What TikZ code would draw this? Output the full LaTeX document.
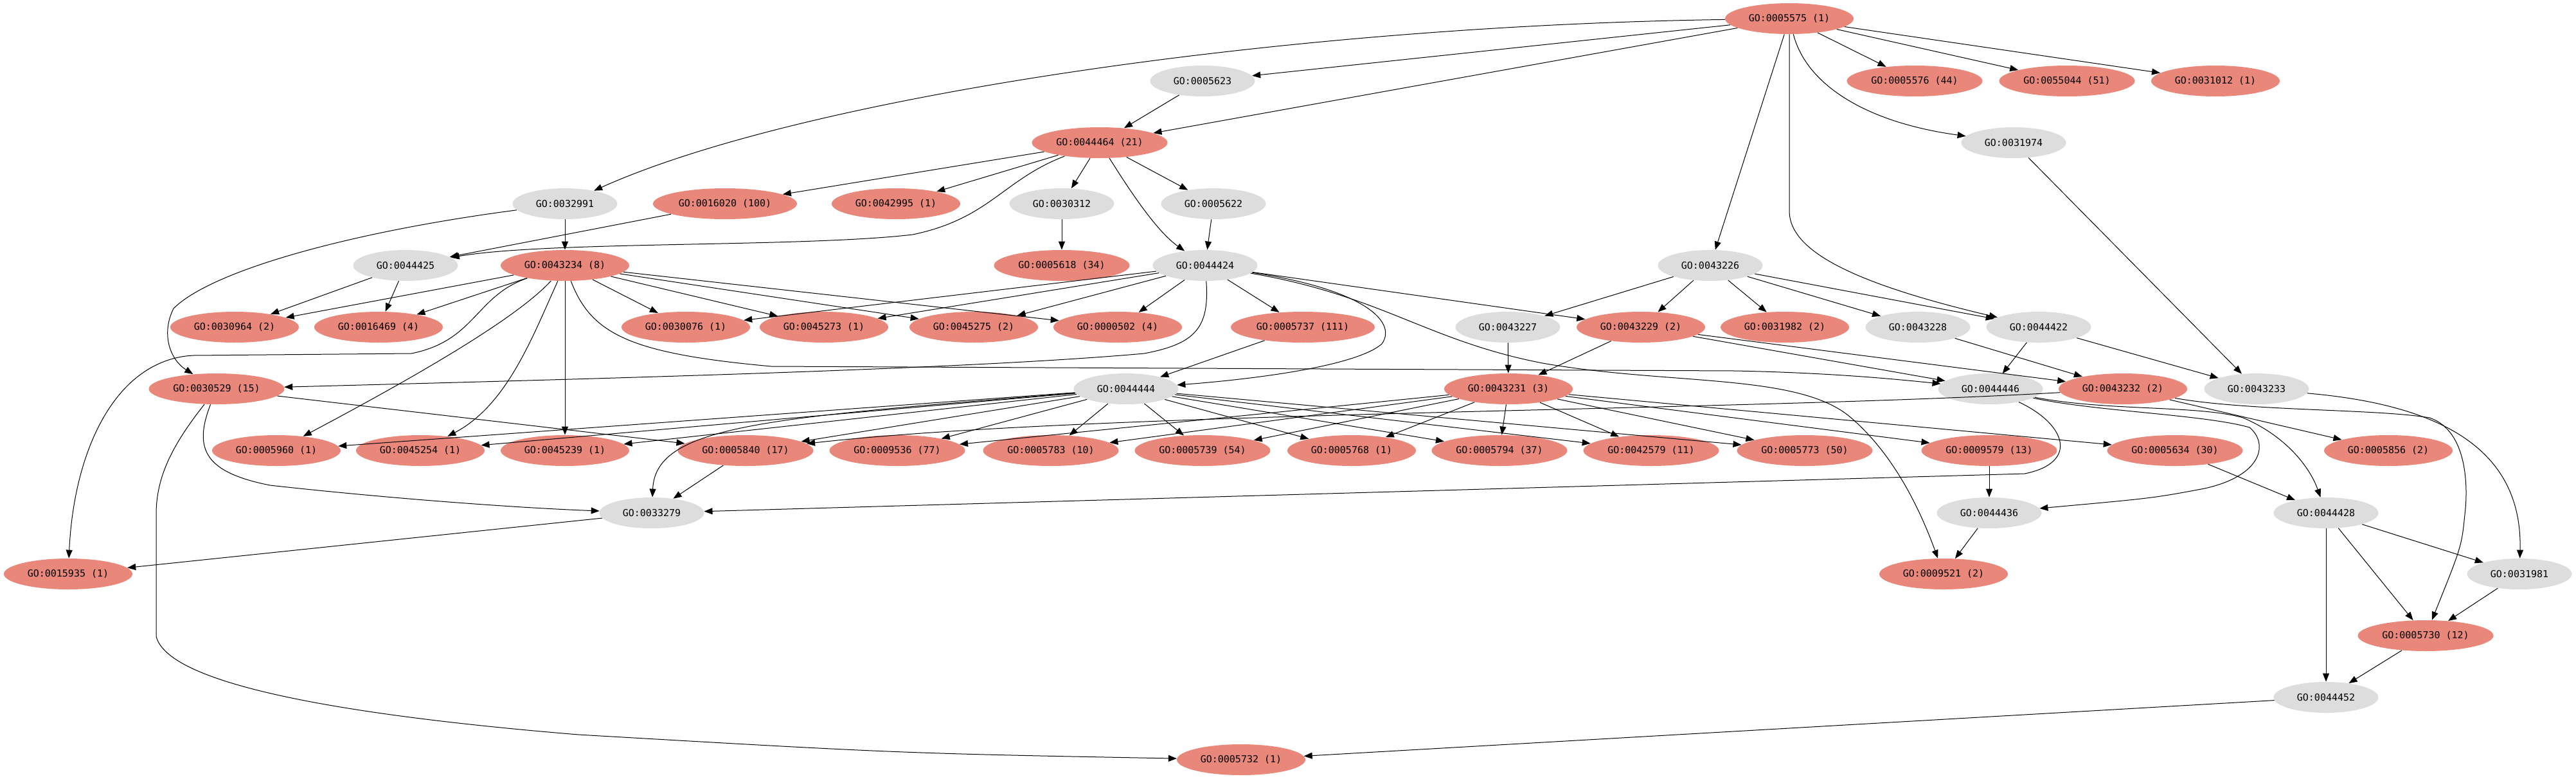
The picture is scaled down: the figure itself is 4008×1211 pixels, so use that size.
\documentclass[tikz,border=0pt]{standalone}
\usepackage{fontspec}
\usetikzlibrary{shapes.geometric,arrows.meta}
\newfontfamily\gofont{DejaVu Sans Mono}
\definecolor{hitred}{RGB}{233,136,122}
\definecolor{gogray}{RGB}{221,221,221}

\begin{document}
\begin{tikzpicture}[x=0.5pt,y=-0.5pt,
    gonode/.style={ellipse, fill=gogray, minimum width=81.5pt, minimum height=24pt,
        inner sep=0pt, font=\gofont\fontsize{7.5}{9}\selectfont},
    hit/.style={gonode, fill=hitred, minimum width=#1},
    hit/.default=100pt,
    link/.style={-{Triangle[length=6.5pt,width=5pt]}, line width=0.5pt}]

    \useasboundingbox (0,0) rectangle (4008,1211);

    % row 0 - 2
    \node[hit] (n0005575) at (2784,29) {GO:0005575 (1)};
    \node[gonode] (n0005623) at (1871,126) {GO:0005623};
    \node[hit=105.5pt] (n0005576) at (2979,126) {GO:0005576 (44)};
    \node[hit=105.5pt] (n0055044) at (3216,126) {GO:0055044 (51)};
    \node[hit] (n0031012) at (3447,126) {GO:0031012 (1)};
    \node[hit=105.5pt] (n0044464) at (1711,222) {GO:0044464 (21)};
    \node[gonode] (n0031974) at (3133,222) {GO:0031974};

    % row 3 - 4
    \node[gonode] (n0032991) at (879,317) {GO:0032991};
    \node[hit=112pt] (n0016020) at (1128,317) {GO:0016020 (100)};
    \node[hit] (n0042995) at (1394,317) {GO:0042995 (1)};
    \node[gonode] (n0030312) at (1652,317) {GO:0030312};
    \node[gonode] (n0005622) at (1888,317) {GO:0005622};
    \node[gonode] (n0044425) at (631,413) {GO:0044425};
    \node[hit] (n0043234) at (879,413) {GO:0043234 (8)};
    \node[hit=105.5pt] (n0005618) at (1652,413) {GO:0005618 (34)};
    \node[gonode] (n0044424) at (1875,413) {GO:0044424};
    \node[gonode] (n0043226) at (2661,413) {GO:0043226};

    % row 5
    \node[hit] (n0030964) at (365,509) {GO:0030964 (2)};
    \node[hit] (n0016469) at (589,509) {GO:0016469 (4)};
    \node[hit] (n0030076) at (1067,509) {GO:0030076 (1)};
    \node[hit] (n0045273) at (1282,509) {GO:0045273 (1)};
    \node[hit] (n0045275) at (1515,509) {GO:0045275 (2)};
    \node[hit] (n0000502) at (1739,509) {GO:0000502 (4)};
    \node[hit=112pt] (n0005737) at (2027,509) {GO:0005737 (111)};
    \node[gonode] (n0043227) at (2346,509) {GO:0043227};
    \node[hit] (n0043229) at (2553,509) {GO:0043229 (2)};
    \node[hit] (n0031982) at (2777,509) {GO:0031982 (2)};
    \node[gonode] (n0043228) at (2984,509) {GO:0043228};
    \node[gonode] (n0044422) at (3172,509) {GO:0044422};

    % row 6
    \node[hit=105.5pt] (n0030529) at (337,605) {GO:0030529 (15)};
    \node[gonode] (n0044444) at (1752,605) {GO:0044444};
    \node[hit] (n0043231) at (2347,605) {GO:0043231 (3)};
    \node[gonode] (n0044446) at (3097,605) {GO:0044446};
    \node[hit] (n0043232) at (3303,605) {GO:0043232 (2)};
    \node[gonode] (n0043233) at (3511,605) {GO:0043233};

    % row 7
    \node[hit] (n0005960) at (430,701) {GO:0005960 (1)};
    \node[hit] (n0045254) at (654,701) {GO:0045254 (1)};
    \node[hit] (n0045239) at (879,701) {GO:0045239 (1)};
    \node[hit=105.5pt] (n0005840) at (1160,701) {GO:0005840 (17)};
    \node[hit=105.5pt] (n0009536) at (1396,701) {GO:0009536 (77)};
    \node[hit=105.5pt] (n0005783) at (1635,701) {GO:0005783 (10)};
    \node[hit=105.5pt] (n0005739) at (1871,701) {GO:0005739 (54)};
    \node[hit] (n0005768) at (2103,701) {GO:0005768 (1)};
    \node[hit=105.5pt] (n0005794) at (2333,701) {GO:0005794 (37)};
    \node[hit=105.5pt] (n0042579) at (2569,701) {GO:0042579 (11)};
    \node[hit=105.5pt] (n0005773) at (2808,701) {GO:0005773 (50)};
    \node[hit=105.5pt] (n0009579) at (3095,701) {GO:0009579 (13)};
    \node[hit=105.5pt] (n0005634) at (3384,701) {GO:0005634 (30)};
    \node[hit] (n0005856) at (3716,701) {GO:0005856 (2)};

    % rows 8 - 12
    \node[gonode] (n0033279) at (1014,798) {GO:0033279};
    \node[gonode] (n0044436) at (3095,798) {GO:0044436};
    \node[gonode] (n0044428) at (3619,798) {GO:0044428};
    \node[hit] (n0015935) at (106,893) {GO:0015935 (1)};
    \node[hit] (n0009521) at (3024,893) {GO:0009521 (2)};
    \node[gonode] (n0031981) at (3920,893) {GO:0031981};
    \node[hit=105.5pt] (n0005730) at (3774,989) {GO:0005730 (12)};
    \node[gonode] (n0044452) at (3619,1085) {GO:0044452};
    \node[hit] (n0005732) at (1931,1182) {GO:0005732 (1)};

    % edges from the top
    \draw[link] (n0005575) -- (n0005623);
    \draw[link] (n0005575) -- (n0044464);
    \draw[link] (n0005575) -- (n0005576);
    \draw[link] (n0005575) -- (n0055044);
    \draw[link] (n0005575) -- (n0031012);
    \draw[link] (n0005575) -- (n0043226);
    \draw[link] (n0005575) .. controls (2000,40) and (1250,150) .. (n0032991);
    \draw[link] (n0005575) .. controls (2810,130) and (2900,190) .. (n0031974);
    \draw[link] (n0005575.south) -- (2784,330) .. controls (2786,390) and (2880,440) .. (n0044422);
    \draw[link] (n0005623) -- (n0044464);
    \draw[link] (n0044464) -- (n0016020);
    \draw[link] (n0044464) -- (n0042995);
    \draw[link] (n0044464) -- (n0030312);
    \draw[link] (n0044464) -- (n0005622);
    \draw[link] (n0044464) .. controls (1760,300) and (1800,360) .. (n0044424);
    \draw[link] (n0044464) .. controls (1560,280) and (1540,340) .. (1420,365)
        .. controls (1250,385) and (850,375) .. (n0044425);
    \draw[link] (n0031974) -- (n0043233);

    % rows 3 - 4
    \draw[link] (n0032991) -- (n0043234);
    \draw[link] (n0032991) .. controls (550,360) and (330,420) .. (270,480)
        .. controls (250,520) and (265,560) .. (n0030529);
    \draw[link] (n0016020) -- (n0044425);
    \draw[link] (n0030312) -- (n0005618);
    \draw[link] (n0005622) -- (n0044424);
    \draw[link] (n0044425) -- (n0030964);
    \draw[link] (n0044425) -- (n0016469);
    \draw[link] (n0043234) -- (n0030964);
    \draw[link] (n0043234) -- (n0016469);
    \draw[link] (n0043234) -- (n0030076);
    \draw[link] (n0043234) -- (n0045273);
    \draw[link] (n0043234) -- (n0045275);
    \draw[link] (n0043234) -- (n0000502);
    \draw[link] (n0043234) -- (n0045239);
    \draw[link] (n0043234) .. controls (740,460) and (740,530) .. (640,550) -- (300,553)
        .. controls (180,560) and (115,700) .. (n0015935);
    \draw[link] (n0043234) .. controls (800,500) and (620,600) .. (n0005960);
    \draw[link] (n0043234) .. controls (830,520) and (790,630) .. (n0045254);
    \draw[link] (n0043234) .. controls (920,520) and (980,550) .. (1200,570) -- (2700,577)
        .. controls (2850,580) and (2950,590) .. (n0044446);
    \draw[link] (n0044424) -- (n0030076);
    \draw[link] (n0044424) -- (n0045273);
    \draw[link] (n0044424) -- (n0045275);
    \draw[link] (n0044424) -- (n0000502);
    \draw[link] (n0044424) -- (n0005737);
    \draw[link] (n0044424) -- (n0043229);
    \draw[link] (n0044424) .. controls (1882,510) and (1860,535) .. (1780,550)
        .. controls (1500,575) and (900,590) .. (n0030529);
    \draw[link] (n0044424) .. controls (2120,450) and (2175,500) .. (2150,535)
        .. controls (2110,570) and (1950,590) .. (n0044444);
    \draw[link] (n0044424) .. controls (2150,460) and (2220,530) .. (2400,565)
        .. controls (2600,600) and (2800,580) .. (2880,650)
        .. controls (2950,710) and (2990,800) .. (n0009521);
    \draw[link] (n0043226) -- (n0043227);
    \draw[link] (n0043226) -- (n0043229);
    \draw[link] (n0043226) -- (n0031982);
    \draw[link] (n0043226) -- (n0043228);
    \draw[link] (n0043226) -- (n0044422);

    % rows 5 - 6
    \draw[link] (n0005737) -- (n0044444);
    \draw[link] (n0043227) -- (n0043231);
    \draw[link] (n0043229) -- (n0043231);
    \draw[link] (n0043229) -- (n0044446);
    \draw[link] (n0043229) -- (n0043232);
    \draw[link] (n0043228) -- (n0043232);
    \draw[link] (n0044422) -- (n0044446);
    \draw[link] (n0044422) -- (n0043233);
    \draw[link] (n0030529) -- (n0005840);
    \draw[link] (n0030529) .. controls (300,700) and (320,735) .. (420,755)
        .. controls (600,775) and (800,790) .. (n0033279);
    \draw[link] (n0030529) .. controls (270,690) and (243,740) .. (243,800) -- (243,990)
        .. controls (260,1060) and (500,1110) .. (900,1143)
        .. controls (1400,1172) .. (n0005732);
    \foreach \t in {0005960,0045254,0045239,0005840,0009536,0005783,0005739,
        0005768,0005794,0042579,0005773}
        \draw[link] (n0044444) -- (n\t);
    \draw[link] (n0044444) .. controls (1200,650) and (1020,660) .. (n0033279);
    \foreach \t in {0009536,0005783,0005739,0005768,0005794,0042579,0005773,
        0009579,0005634}
        \draw[link] (n0043231) -- (n\t);
    \draw[link] (n0043232) .. controls (2700,640) and (1700,640) .. (n0005840);
    \draw[link] (n0043232) -- (n0005856);
    \draw[link] (n0043232) .. controls (3500,640) and (3700,636) .. (3780,650)
        .. controls (3840,670) and (3840,760) .. (3835,800)
        .. controls (3830,850) .. (n0005730);
    \draw[link] (n0044446) .. controls (3215,660) and (3235,720) .. (3150,737) -- (n0033279);
    \draw[link] (n0044446) .. controls (3260,640) and (3430,645) .. (3500,665)
        .. controls (3530,690) and (3520,740) .. (3430,760)
        .. controls (3350,775) .. (n0044436);
    \draw[link] (n0044446) .. controls (3280,640) and (3420,630) .. (3490,650)
        .. controls (3560,680) and (3595,730) .. (n0044428);
    \draw[link] (n0043233) .. controls (3800,630) and (3925,700) .. (n0031981);

    % lower rows
    \draw[link] (n0005840) -- (n0033279);
    \draw[link] (n0033279) -- (n0015935);
    \draw[link] (n0009579) -- (n0044436);
    \draw[link] (n0044436) -- (n0009521);
    \draw[link] (n0005634) -- (n0044428);
    \draw[link] (n0044428) -- (n0031981);
    \draw[link] (n0044428) -- (n0005730);
    \draw[link] (n0044428) -- (n0044452);
    \draw[link] (n0031981) -- (n0005730);
    \draw[link] (n0005730) -- (n0044452);
    \draw[link] (n0044452) -- (n0005732);

\end{tikzpicture}
\end{document}
